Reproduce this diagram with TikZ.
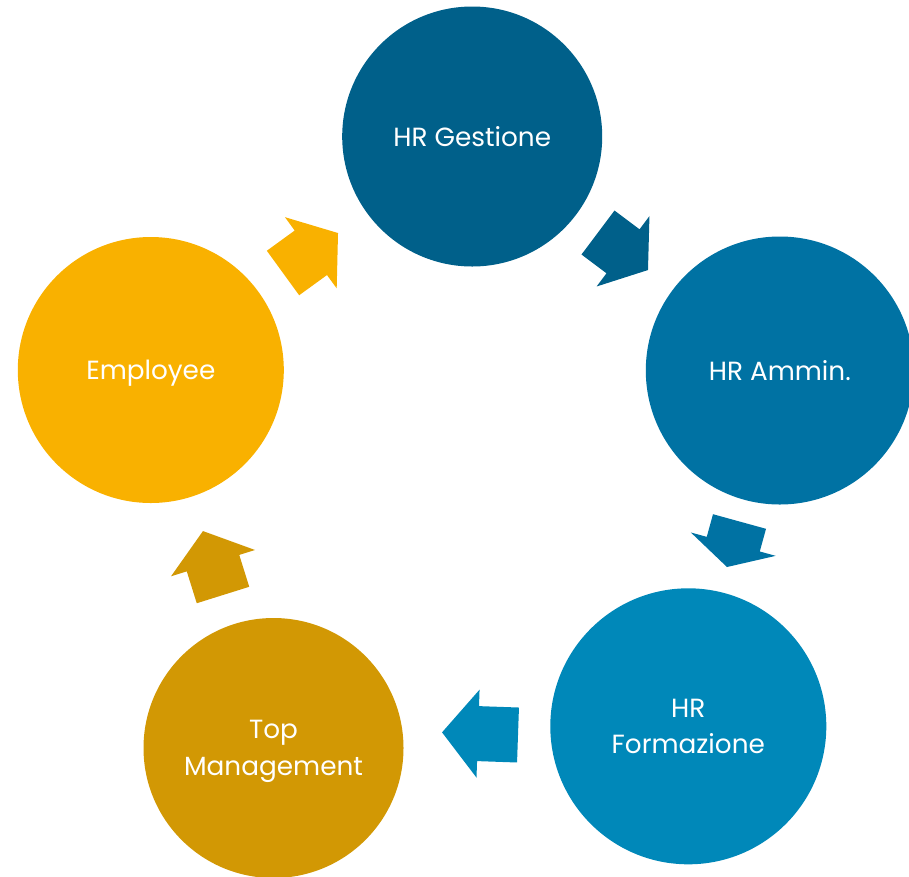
\documentclass[tikz,border=0pt]{standalone}
\usepackage{fontspec}
\setmainfont{Poppins}
\definecolor{cGest}{RGB}{0,96,138}
\definecolor{cAmm}{RGB}{0,114,163}
\definecolor{cForm}{RGB}{0,136,185}
\definecolor{cTop}{RGB}{210,152,4}
\definecolor{cEmp}{RGB}{249,177,0}
\newcommand{\blockarrow}[5]{%
  \fill[#5, shift={#1}, rotate=#2] (0,-27.5) -- (#3,-27.5) -- (#3,-44) -- (#4,0) -- (#3,44) -- (#3,27.5) -- (0,27.5) -- cycle;}
\begin{document}
\begin{tikzpicture}[x=1pt,y=-1pt,
  bubble/.style={circle, inner sep=0pt, text=white, align=center, text depth=0pt,
    font=\fontsize{26.3}{36.6}\selectfont}]
\useasboundingbox (0,0) rectangle (909,876);
\clip (0,0) rectangle (909,876);
\node[bubble, fill=cGest, minimum size=260pt] (gest) at (472.2,136.5) {HR Gestione};
\node[bubble, fill=cAmm, minimum size=268pt] (amm) at (779.8,370.5) {HR Ammin.};
\node[bubble, fill=cForm, minimum size=276pt] (form) at (688.3,726.3) {HR\\Formazione};
\node[bubble, fill=cTop, minimum size=260pt] (top) at (273.5,748) {Top\\Management};
\node[bubble, fill=cEmp, minimum size=266pt] (emp) at (150.8,370) {Employee};
\blockarrow{(283,273)}{36}{34.4}{68}{cEmp}
\blockarrow{(598,232.5)}{-36.9}{31.3}{62.5}{cGest}
\blockarrow{(739.5,521.5)}{-105.4}{23.5}{47.2}{cAmm}
\blockarrow{(518,735)}{178}{40}{76}{cForm}
\blockarrow{(223,595)}{107.4}{33.4}{67}{cTop}
\end{tikzpicture}
\end{document}
